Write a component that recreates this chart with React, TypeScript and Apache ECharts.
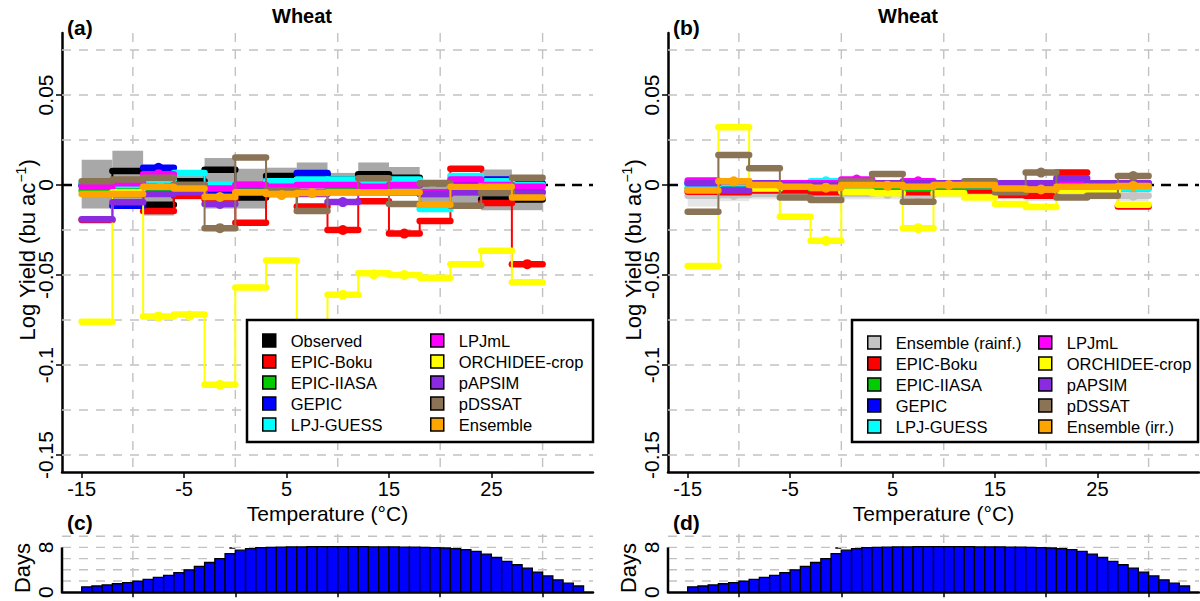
import React, { useEffect, useRef } from "react";
import * as echarts from "echarts";

const FONT = '"Liberation Sans", Arial, Helvetica, sans-serif';

// ---- bins (°C) ----
const BIN_EDGES = [-15, -12, -9, -6, -3, 0, 3, 6, 9, 12, 15, 18, 21, 24, 27, 30];
const X_TICKS = [-15, -5, 5, 15, 25];
const X_GRID = [-10, 0, 10, 20, 30];
const Y_TICKS = [-0.15, -0.1, -0.05, 0, 0.05];
const Y_GRID = [-0.15, -0.125, -0.1, -0.075, -0.05, -0.025, 0, 0.025, 0.05, 0.075];
const ZERO_LINE = [0];
const X_MIN = -16.92;
const X_MAX = 34.92;
const Y_MIN = -0.1594;
const Y_MAX = 0.0844;

// ---- panel (a): rainfed, observed + models ----
const OBSERVED_A = [0.0, 0.0077, -0.011, 0.002, 0.0085, -0.007, 0.005, 0.006, 0.003, 0.006, 0.004, -0.004, -0.003, -0.008, -0.008];
const OBS_CI_LO_A = [-0.013, -0.012, -0.017, -0.008, -0.013, -0.013, -0.005, -0.004, -0.004, -0.002, -0.004, -0.01, -0.01, -0.014, -0.014];
const OBS_CI_HI_A = [0.014, 0.019, 0.01, 0.008, 0.015, 0.009, 0.0096, 0.0125, 0.0067, 0.0125, 0.01, 0.003, 0.004, 0.0086, 0.003];
const EPIC_BOKU_A = [-0.0195, -0.005, -0.0144, -0.006, -0.008, -0.021, -0.005, -0.012, -0.025, -0.009, -0.027, -0.02, 0.009, -0.01, -0.044];
const EPIC_IIASA_A = [-0.003, -0.002, -0.004, -0.003, -0.004, -0.003, -0.003, -0.004, -0.003, -0.003, -0.004, -0.005, -0.004, -0.004, -0.004];
const GEPIC_A = [0.0, -0.0115, 0.0095, 0.0, -0.003, 0.0, 0.002, 0.0067, 0.002, 0.001, 0.0, -0.004, 0.001, 0.003, 0.001];
const LPJ_GUESS_A = [0.001, 0.0, 0.003, 0.0067, 0.0, -0.004, 0.002, 0.003, 0.003, 0.001, 0.003, -0.0134, 0.005, 0.002, 0.0];
const LPJML_A = [-0.001, 0.001, 0.006, 0.0, -0.002, 0.0, -0.001, 0.0, 0.0, -0.001, 0.0, -0.004, 0.003, 0.0, -0.001];
const ORCHIDEE_A = [-0.076, -0.004, -0.073, -0.072, -0.111, -0.057, -0.042, -0.095, -0.061, -0.049, -0.05, -0.0515, -0.044, -0.0365, -0.054];
const PAPSIM_A = [-0.019, -0.0096, -0.005, -0.004, -0.0105, -0.004, -0.004, -0.005, -0.0095, -0.004, -0.004, -0.005, -0.004, -0.004, -0.004];
const PDSSAT_A = [0.002, 0.003, 0.004, 0.0, -0.024, 0.0153, -0.003, -0.0144, -0.004, 0.0038, -0.0105, 0.001, -0.0115, -0.004, 0.004];
const ENSEMBLE_A = [-0.005, -0.005, -0.001, -0.002, -0.0067, -0.004, -0.005, -0.0045, -0.004, -0.004, -0.004, -0.011, -0.001, -0.001, -0.007];

const EPIC_BOKU_A_DOTS = [8, 10, 14];
const GEPIC_A_DOTS = [2];
const LPJML_A_DOTS = [2];
const ORCHIDEE_A_DOTS = [2, 3, 4, 8, 9, 10];
const PAPSIM_A_DOTS = [4, 8];
const PDSSAT_A_DOTS = [4];
const ENSEMBLE_A_DOTS = [4, 6, 7];

// ---- panel (b): irrigated ----
const ENS_RAINF_B = [-0.006, -0.0055, -0.005, -0.005, -0.006, -0.005, -0.0045, -0.0055, -0.004, -0.004, -0.005, -0.006, -0.005, -0.005, -0.006];
const RAINF_LO_B = [-0.012, -0.009, -0.008, -0.008, -0.009, -0.008, -0.008, -0.008, -0.007, -0.007, -0.008, -0.009, -0.008, -0.008, -0.009];
const RAINF_HI_B = [0.0, -0.002, -0.002, -0.002, -0.003, -0.002, -0.002, -0.002, -0.001, -0.001, -0.002, -0.003, -0.002, -0.002, -0.003];
const EPIC_BOKU_B = [-0.0037, -0.004, -0.003, -0.003, -0.004, -0.003, -0.003, -0.004, -0.002, -0.003, -0.0055, -0.006, 0.0069, -0.002, -0.012];
const EPIC_IIASA_B = [-0.002, -0.002, -0.002, -0.001, -0.002, -0.002, -0.001, -0.002, -0.002, -0.001, -0.002, -0.002, -0.001, -0.002, -0.002];
const GEPIC_B = [0.001, 0.001, 0.001, 0.0, 0.0, 0.001, 0.001, 0.001, 0.001, 0.0, 0.0, 0.001, 0.001, 0.001, 0.001];
const LPJ_GUESS_B = [0.0, 0.001, 0.0, 0.001, 0.002, 0.0, 0.001, 0.0, 0.001, 0.0, -0.001, -0.001, 0.0, -0.001, -0.002];
const LPJML_B = [0.0025, 0.002, 0.001, 0.001, 0.001, 0.003, 0.001, 0.002, 0.001, 0.001, 0.001, 0.001, 0.002, 0.001, 0.001];
const ORCHIDEE_B = [-0.045, 0.032, -0.002, -0.0176, -0.031, -0.0037, -0.0046, -0.024, -0.0046, -0.007, -0.0105, -0.0123, -0.003, -0.003, -0.011];
const PAPSIM_B = [0.001, -0.003, 0.001, 0.0, 0.0, 0.001, 0.001, 0.001, 0.001, 0.001, 0.001, 0.001, 0.0037, 0.001, 0.001];
const PDSSAT_B = [-0.0148, 0.0167, 0.0093, -0.0069, -0.0083, 0.0019, 0.0061, -0.0093, 0.0, 0.002, -0.004, 0.0069, -0.007, -0.006, 0.005];
const ENSEMBLE_IRR_B = [-0.003, 0.002, 0.0, -0.001, -0.0015, 0.0, 0.0, -0.001, 0.0, 0.0, -0.002, -0.0025, -0.001, -0.001, -0.0005];

const ENS_RAINF_B_DOTS = [1, 6, 7, 14];
const LPJ_GUESS_B_DOTS = [4];
const LPJML_B_DOTS = [5, 7];
const ORCHIDEE_B_DOTS = [4, 7];
const PDSSAT_B_DOTS = [11, 14];
const ENSEMBLE_IRR_B_DOTS = [1, 4, 6, 8, 11, 14];

// ---- histograms (c), (d): days per 1 °C bin ----
const HIST_BIN_LEFT = [-15, -14, -13, -12, -11, -10, -9, -8, -7, -6, -5, -4, -3, -2, -1, 0, 1, 2, 3, 4, 5, 6, 7, 8, 9, 10, 11, 12, 13, 14, 15, 16, 17, 18, 19, 20, 21, 22, 23, 24, 25, 26, 27, 28, 29, 30, 31, 32, 33];
const DAYS_C = [0.95, 1.1, 1.3, 1.5, 1.7, 1.95, 2.3, 2.65, 3.0, 3.5, 4.0, 4.6, 5.3, 6.0, 6.9, 7.5, 7.8, 7.95, 8.0, 8.05, 8.1, 8.1, 8.15, 8.15, 8.15, 8.15, 8.15, 8.15, 8.1, 8.1, 8.1, 8.05, 8.05, 8.0, 7.95, 7.9, 7.8, 7.6, 7.3, 6.8, 6.2, 5.5, 4.9, 4.3, 3.6, 2.9, 2.2, 1.6, 1.1];
const DAYS_D = [0.95, 1.1, 1.3, 1.5, 1.7, 1.95, 2.3, 2.65, 3.0, 3.5, 4.0, 4.6, 5.3, 6.0, 6.9, 7.5, 7.8, 7.95, 8.0, 8.05, 8.1, 8.1, 8.15, 8.15, 8.15, 8.15, 8.15, 8.15, 8.1, 8.1, 8.1, 8.05, 8.05, 8.0, 7.95, 7.9, 7.8, 7.6, 7.3, 6.8, 6.2, 5.5, 4.9, 4.3, 3.6, 2.9, 2.2, 1.6, 1.1];
const HIST_Y_TICKS = [0, 4, 8];
const HIST_Y_LABELS = [0, 8];
const HIST_Y_GRID = [2, 4, 6, 8, 10];
const HIST_Y_MAX = 10.4;

const C = {
  black: "#000000",
  red: "#FF0000",
  green: "#00CD00",
  blue: "#0000FF",
  cyan: "#00FFFF",
  magenta: "#FF00FF",
  yellow: "#FFFF00",
  purple: "#8A2BE2",
  brown: "#8B7355",
  orange: "#FFA500",
  grey: "#C4C4C4",
};

function stepRender(params: any, api: any) {
  const x0 = api.value(0), x1 = api.value(1), v = api.value(2), vn = api.value(3), dot = api.value(4);
  const color = api.visual("color");
  const p0 = api.coord([x0, v]);
  const p1 = api.coord([x1, v]);
  const pn = api.coord([x1, vn]);
  const children: any[] = [
    { type: "line", shape: { x1: p1[0], y1: p1[1], x2: pn[0], y2: pn[1] }, style: { stroke: color, lineWidth: 2 } },
    { type: "line", shape: { x1: p0[0], y1: p0[1], x2: p1[0], y2: p1[1] }, style: { stroke: color, lineWidth: 6.5, lineCap: "round" } },
  ];
  if (dot) {
    const c = api.coord([(x0 + x1) / 2, v]);
    children.push({ type: "circle", shape: { cx: c[0], cy: c[1], r: 5 }, style: { fill: color } });
  }
  return { type: "group", children };
}

function steps(name: string, color: string, vals: number[], dots: number[], axis: number) {
  return {
    type: "custom",
    name,
    xAxisIndex: axis,
    yAxisIndex: axis,
    z: 3,
    itemStyle: { color },
    renderItem: stepRender,
    encode: { x: [0, 1], y: [2] },
    data: vals.map((v, i) => [BIN_EDGES[i], BIN_EDGES[i + 1], v, i + 1 < vals.length ? vals[i + 1] : v, dots.includes(i) ? 1 : 0]),
  };
}

function band(color: string, lo: number[], hi: number[], axis: number) {
  return {
    type: "custom",
    xAxisIndex: axis,
    yAxisIndex: axis,
    z: 2,
    silent: true,
    renderItem: (params: any, api: any) => {
      const a = api.coord([api.value(0), api.value(3)]);
      const b = api.coord([api.value(1), api.value(2)]);
      return { type: "rect", shape: { x: a[0], y: a[1], width: b[0] - a[0], height: b[1] - a[1] }, style: { fill: color } };
    },
    encode: { x: [0, 1], y: [2, 3] },
    data: lo.map((l, i) => [BIN_EDGES[i], BIN_EDGES[i + 1], l, hi[i]]),
  };
}

function vGrid(values: number[], axis: number, color: string, width: number, dash: number[]) {
  return {
    type: "custom",
    xAxisIndex: axis,
    yAxisIndex: axis,
    z: 1,
    silent: true,
    renderItem: (params: any, api: any) => {
      const cs = params.coordSys;
      const x = api.coord([api.value(0), api.value(1)])[0];
      return { type: "line", shape: { x1: x, y1: cs.y, x2: x, y2: cs.y + cs.height }, style: { stroke: color, lineWidth: width, lineDash: dash } };
    },
    encode: { x: 0, y: 1 },
    data: values.map((v) => [v, 0]),
  };
}

function hGrid(values: number[], axis: number, xmin: number, color: string, width: number, dash: number[], z: number) {
  return {
    type: "custom",
    xAxisIndex: axis,
    yAxisIndex: axis,
    z,
    silent: true,
    renderItem: (params: any, api: any) => {
      const cs = params.coordSys;
      const y = api.coord([api.value(0), api.value(1)])[1];
      return { type: "line", shape: { x1: cs.x, y1: y, x2: cs.x + cs.width, y2: y }, style: { stroke: color, lineWidth: width, lineDash: dash } };
    },
    encode: { x: 0, y: 1 },
    data: values.map((v) => [xmin, v]),
  };
}

function hist(vals: number[], axis: number) {
  return {
    type: "custom",
    name: "Days",
    xAxisIndex: axis,
    yAxisIndex: axis,
    z: 3,
    renderItem: (params: any, api: any) => {
      const a = api.coord([api.value(0), api.value(2)]);
      const b = api.coord([api.value(1), 0]);
      return {
        type: "rect",
        shape: { x: a[0], y: a[1], width: b[0] - a[0], height: b[1] - a[1] },
        style: { fill: "#0000FF", stroke: "#000", lineWidth: 1.3 },
      };
    },
    encode: { x: [0, 1], y: 2 },
    data: vals.map((v, i) => [HIST_BIN_LEFT[i], HIST_BIN_LEFT[i] + 1, v]),
  };
}

function histAxisLine(axis: number) {
  return {
    type: "custom",
    xAxisIndex: axis,
    yAxisIndex: axis,
    z: 4,
    silent: true,
    renderItem: (params: any, api: any) => {
      const a = api.coord([X_MIN, api.value(0)]);
      const b = api.coord([X_MIN, api.value(1)]);
      return { type: "line", shape: { x1: a[0], y1: a[1], x2: b[0], y2: b[1] }, style: { stroke: "#000", lineWidth: 2.5 } };
    },
    encode: { y: [0, 1] },
    data: [[HIST_Y_TICKS[0], HIST_Y_TICKS[HIST_Y_TICKS.length - 1]]],
  };
}

const axisLineStyle = { show: true, onZero: false, lineStyle: { color: "#000", width: 2.5 } };
const tickStyle = { color: "#000", width: 1.5 };

function mainX(gridIndex: number) {
  return {
    type: "value",
    gridIndex,
    min: X_MIN,
    max: X_MAX,
    axisLine: axisLineStyle,
    axisTick: { show: true, customValues: X_TICKS, length: 6, lineStyle: tickStyle },
    axisLabel: { customValues: X_TICKS, fontSize: 20, lineHeight: 17, color: "#000", fontFamily: FONT, margin: 8.5 },
    splitLine: { show: false },
    name: "Temperature (°C)",
    nameLocation: "middle",
    nameGap: 31.5,
    nameMoveOverlap: false,
    nameTextStyle: { fontSize: 21, lineHeight: 19, color: "#000", fontFamily: FONT },
  };
}
function mainY(gridIndex: number) {
  return {
    type: "value",
    gridIndex,
    min: Y_MIN,
    max: Y_MAX,
    axisLine: axisLineStyle,
    axisTick: { show: true, customValues: Y_TICKS, length: 6, lineStyle: tickStyle },
    axisLabel: { customValues: Y_TICKS, fontSize: 21, color: "#000", fontFamily: FONT, rotate: 90, margin: 6 },
    splitLine: { show: false },
  };
}
function histX(gridIndex: number) {
  return {
    type: "value",
    gridIndex,
    min: X_MIN,
    max: X_MAX,
    axisLine: axisLineStyle,
    axisTick: { show: true, customValues: X_GRID, length: 5, lineStyle: tickStyle },
    axisLabel: { show: false },
    splitLine: { show: false },
  };
}
function histY(gridIndex: number) {
  return {
    type: "value",
    gridIndex,
    min: 0,
    max: HIST_Y_MAX,
    axisLine: { show: false },
    axisTick: { show: true, customValues: HIST_Y_TICKS, length: 6, lineStyle: tickStyle },
    axisLabel: { customValues: HIST_Y_LABELS, fontSize: 21, color: "#000", fontFamily: FONT, rotate: 90, margin: 6 },
    splitLine: { show: false },
  };
}

const legendCommon = {
  orient: "vertical",
  icon: "rect",
  itemWidth: 13,
  itemHeight: 13,
  itemGap: 4,
  padding: 0,
  selectedMode: false,
  z: 10,
  itemStyle: { borderColor: "#000", borderWidth: 1.5 },
  textStyle: { fontSize: 16.5, fontFamily: FONT, color: "#000", lineHeight: 16, padding: [0, 0, 0, 10] },
};

const GRID_COLOR = "#C2C2C2";
const GRID_DASH = [9, 8];

function buildOption() {
  const series: any[] = [
    // panel a
    vGrid(X_GRID, 0, GRID_COLOR, 1.4, GRID_DASH),
    hGrid(Y_GRID, 0, X_MIN, GRID_COLOR, 1.4, GRID_DASH, 1),
    band("#A8A8A8", OBS_CI_LO_A, OBS_CI_HI_A, 0),
    hGrid(ZERO_LINE, 0, X_MIN, "#000", 2.5, [10, 7], 2),
    steps("Observed", C.black, OBSERVED_A, [], 0),
    steps("EPIC-Boku", C.red, EPIC_BOKU_A, EPIC_BOKU_A_DOTS, 0),
    steps("EPIC-IIASA", C.green, EPIC_IIASA_A, [], 0),
    steps("GEPIC", C.blue, GEPIC_A, GEPIC_A_DOTS, 0),
    steps("LPJ-GUESS", C.cyan, LPJ_GUESS_A, [], 0),
    steps("LPJmL", C.magenta, LPJML_A, LPJML_A_DOTS, 0),
    steps("ORCHIDEE-crop", C.yellow, ORCHIDEE_A, ORCHIDEE_A_DOTS, 0),
    steps("pAPSIM", C.purple, PAPSIM_A, PAPSIM_A_DOTS, 0),
    steps("pDSSAT", C.brown, PDSSAT_A, PDSSAT_A_DOTS, 0),
    steps("Ensemble", C.orange, ENSEMBLE_A, ENSEMBLE_A_DOTS, 0),
    // panel b
    vGrid(X_GRID, 1, GRID_COLOR, 1.4, GRID_DASH),
    hGrid(Y_GRID, 1, X_MIN, GRID_COLOR, 1.4, GRID_DASH, 1),
    band("#E6E6E6", RAINF_LO_B, RAINF_HI_B, 1),
    hGrid(ZERO_LINE, 1, X_MIN, "#000", 2.5, [10, 7], 2),
    steps("Ensemble (rainf.)", C.grey, ENS_RAINF_B, ENS_RAINF_B_DOTS, 1),
    steps("EPIC-Boku", C.red, EPIC_BOKU_B, [], 1),
    steps("EPIC-IIASA", C.green, EPIC_IIASA_B, [], 1),
    steps("GEPIC", C.blue, GEPIC_B, [], 1),
    steps("LPJ-GUESS", C.cyan, LPJ_GUESS_B, LPJ_GUESS_B_DOTS, 1),
    steps("LPJmL", C.magenta, LPJML_B, LPJML_B_DOTS, 1),
    steps("ORCHIDEE-crop", C.yellow, ORCHIDEE_B, ORCHIDEE_B_DOTS, 1),
    steps("pAPSIM", C.purple, PAPSIM_B, [], 1),
    steps("pDSSAT", C.brown, PDSSAT_B, PDSSAT_B_DOTS, 1),
    steps("Ensemble (irr.)", C.orange, ENSEMBLE_IRR_B, ENSEMBLE_IRR_B_DOTS, 1),
    // histograms
    vGrid(X_GRID, 2, GRID_COLOR, 1.4, GRID_DASH),
    hGrid(HIST_Y_GRID, 2, X_MIN, GRID_COLOR, 1.4, GRID_DASH, 1),
    hist(DAYS_C, 2),
    histAxisLine(2),
    vGrid(X_GRID, 3, GRID_COLOR, 1.4, GRID_DASH),
    hGrid(HIST_Y_GRID, 3, X_MIN, GRID_COLOR, 1.4, GRID_DASH, 1),
    hist(DAYS_D, 3),
    histAxisLine(3),
  ];

  const boldText = (text: string, x: number, y: number, size: number, align = "left") => ({
    type: "text",
    x,
    y,
    z: 20,
    style: { text, fontSize: size, fontWeight: "bold", fontFamily: FONT, fill: "#000", align, verticalAlign: "middle" },
  });
  const rotText = (text: string, x: number, y: number, rich?: any) => ({
    type: "text",
    x,
    y,
    rotation: Math.PI / 2,
    z: 20,
    style: { text, fontSize: 22, fontFamily: FONT, fill: "#000", align: "center", verticalAlign: "middle", rich },
  });
  const yTitleRich = {
    a: { fontSize: 22, fontFamily: FONT, fill: "#000", lineHeight: 26 },
    s: { fontSize: 14, fontFamily: FONT, fill: "#000", lineHeight: 14, verticalAlign: "top" },
  };

  return {
    animation: false,
    backgroundColor: "#ffffff",
    grid: [
      { left: 62, top: 33, width: 531, height: 439 },
      { left: 668, top: 33, width: 531, height: 439 },
      { left: 62, top: 534, width: 531, height: 60 },
      { left: 668, top: 534, width: 531, height: 60 },
    ],
    xAxis: [mainX(0), mainX(1), histX(2), histX(3)],
    yAxis: [mainY(0), mainY(1), histY(2), histY(3)],
    legend: [
      { ...legendCommon, left: 262, top: 332, data: ["Observed", "EPIC-Boku", "EPIC-IIASA", "GEPIC", "LPJ-GUESS"] },
      { ...legendCommon, left: 430, top: 332, data: ["LPJmL", "ORCHIDEE-crop", "pAPSIM", "pDSSAT", "Ensemble"] },
      { ...legendCommon, left: 867, top: 334, data: ["Ensemble (rainf.)", "EPIC-Boku", "EPIC-IIASA", "GEPIC", "LPJ-GUESS"] },
      { ...legendCommon, left: 1038, top: 334, data: ["LPJmL", "ORCHIDEE-crop", "pAPSIM", "pDSSAT", "Ensemble (irr.)"] },
    ],
    graphic: [
      { type: "rect", z: 5, shape: { x: 247, y: 320, width: 346, height: 122 }, style: { fill: "#fff", stroke: "#000", lineWidth: 2.5 } },
      { type: "rect", z: 5, shape: { x: 852, y: 320, width: 346, height: 122 }, style: { fill: "#fff", stroke: "#000", lineWidth: 2.5 } },
      boldText("Wheat", 302, 16, 20, "center"),
      boldText("Wheat", 908, 16, 20, "center"),
      boldText("(a)", 67, 27, 21),
      boldText("(b)", 673, 27, 21),
      boldText("(c)", 67, 522, 21),
      boldText("(d)", 673, 522, 21),
      rotText("{a|Log Yield (bu ac}{s|−1}{a|)}", 27, 250, yTitleRich),
      rotText("{a|Log Yield (bu ac}{s|−1}{a|)}", 633, 250, yTitleRich),
      rotText("Days", 22, 568),
      rotText("Days", 628, 568),
    ],
    series,
  };
}

export default function App() {
  const ref = useRef<HTMLDivElement>(null);
  useEffect(() => {
    if (!ref.current) return;
    const chart = echarts.init(ref.current, null, { renderer: "svg" });
    chart.setOption(buildOption() as any);
    return () => chart.dispose();
  }, []);
  return <div ref={ref} style={{ position: "absolute", left: 0, top: 0, width: 1200, height: 601, background: "#fff" }} />;
}
